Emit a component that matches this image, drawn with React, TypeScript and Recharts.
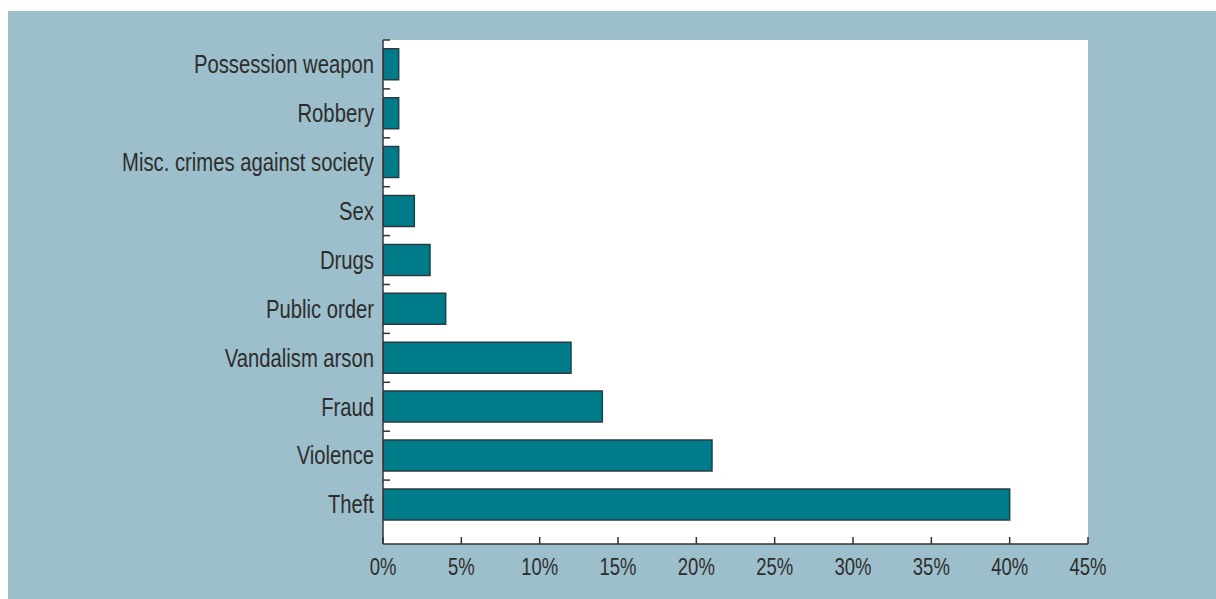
import React from 'react';
import { BarChart, Bar, XAxis, YAxis, CartesianGrid } from 'recharts';

const categories = [
  'Possession weapon',
  'Robbery',
  'Misc. crimes against society',
  'Sex',
  'Drugs',
  'Public order',
  'Vandalism arson',
  'Fraud',
  'Violence',
  'Theft',
];
const shares = [1, 1, 1, 2, 3, 4, 12, 14, 21, 40];
const xTicks = [0, 5, 10, 15, 20, 25, 30, 35, 40, 45];

const data = categories.map((name, i) => ({ name, value: shares[i] }));

const FONT = "'Liberation Sans', Arial, sans-serif";
const TEXT = '#2d2d2d';
const AXIS = '#333333';

const YTick = (props: any) => {
  const { x, y, payload } = props;
  const half = payload && typeof payload.offset === 'number' ? payload.offset : 24.45;
  const axisX = x + 9;
  return (
    <g>
      <line x1={axisX} x2={axisX + 7} y1={y - half} y2={y - half} stroke={AXIS} strokeWidth={1.5} />
      <text
        transform={`translate(${x},${y}) scale(0.81,1)`}
        x={0}
        y={0}
        dy="0.35em"
        textAnchor="end"
        fill={TEXT}
        fontSize={25}
        fontFamily={FONT}
      >
        {payload.value}
      </text>
    </g>
  );
};

const XTick = (props: any) => {
  const { x, y, payload } = props;
  return (
    <text
      transform={`translate(${x},${y}) scale(0.77,1)`}
      x={0}
      y={0}
      dy="0.71em"
      textAnchor="middle"
      fill={TEXT}
      fontSize={24}
      fontFamily={FONT}
    >
      {`${payload.value}%`}
    </text>
  );
};

export default function App() {
  return (
    <div
      style={{
        position: 'absolute',
        left: 8,
        top: 11,
        width: 1208,
        height: 588,
        background: '#9dbfcb',
      }}
    >
      <BarChart
        width={1208}
        height={588}
        data={data}
        layout="vertical"
        margin={{ top: 29, right: 128, bottom: 0, left: 0 }}
        barCategoryGap="18%"
      >
        <CartesianGrid horizontal={false} vertical={false} fill="#ffffff" stroke="none" />
        <XAxis
          type="number"
          domain={[0, 45]}
          ticks={xTicks}
          interval={0}
          height={55}
          tickSize={-7}
          tickMargin={21}
          stroke={AXIS}
          axisLine={{ stroke: AXIS, strokeWidth: 1.5 }}
          tickLine={{ stroke: AXIS, strokeWidth: 1.5 }}
          tick={<XTick />}
          allowDataOverflow
        />
        <YAxis
          type="category"
          dataKey="name"
          width={375}
          tickSize={0}
          tickMargin={9}
          interval={0}
          padding={{ top: 0, bottom: 15 }}
          axisLine={{ stroke: AXIS, strokeWidth: 1.5 }}
          tickLine={false}
          tick={<YTick />}
        />
        <Bar
          dataKey="value"
          fill="#007b8a"
          stroke="#2b3b40"
          strokeWidth={1.5}
          isAnimationActive={false}
        />
      </BarChart>
    </div>
  );
}
